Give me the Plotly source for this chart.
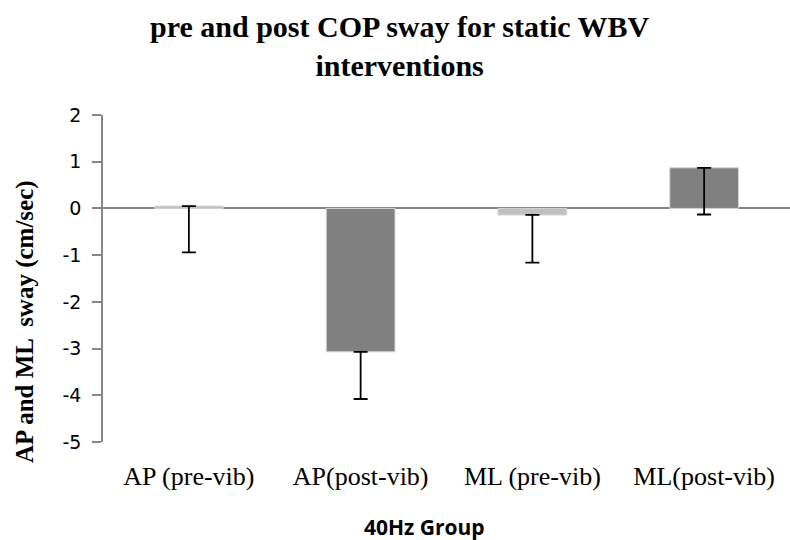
import plotly.graph_objects as go

categories = ["AP (pre-vib)", "AP(post-vib)", "ML (pre-vib)", "ML(post-vib)"]
values = [0.05, -3.07, -0.14, 0.87]
err_minus = [0.99, 1.01, 1.02, 1.00]
err_plus = [0, 0, 0, 0]
bar_colors = ["#c0c0c0", "#808080", "#c0c0c0", "#808080"]
y_ticks = [2, 1, 0, -1, -2, -3, -4, -5]
y_tick_text = ["2", "1", "0", "-1", "-2", "-3", "-4", "-5"]

W, H = 790, 540
L, R, T, B = 103, 0, 115, 98
pw, ph = W - L - R, H - T - B

fig = go.Figure(go.Bar(
    x=categories, y=values,
    marker=dict(color=bar_colors, line=dict(color="#d4d4d4", width=1)),
    width=0.4,
    error_y=dict(type="data", symmetric=False, array=err_plus, arrayminus=err_minus,
                 color="#000000", thickness=1.8, width=7),
))

fig.update_layout(
    width=W, height=H,
    margin=dict(l=L, r=R, t=T, b=B, pad=0),
    plot_bgcolor="white", paper_bgcolor="white",
    showlegend=False,
    xaxis=dict(showline=False, showgrid=False, zeroline=False, ticks="",
               automargin=False, ticklabelstandoff=16,
               tickfont=dict(family="Liberation Serif", size=26, color="#000000")),
    yaxis=dict(range=[-5, 2], tickvals=y_ticks, ticktext=y_tick_text, showgrid=False,
               automargin=False,
               showline=True, linecolor="#868686", linewidth=1.5,
               ticks="outside", ticklen=9, tickcolor="#868686", tickwidth=1.5,
               ticklabelstandoff=7,
               zeroline=True, zerolinecolor="#868686", zerolinewidth=1.5,
               tickfont=dict(family="DejaVu Sans", size=19, color="#000000")),
    annotations=[
        dict(text="<b>pre and post COP sway for static WBV<br>interventions</b>",
             xref="paper", x=(400 - L) / pw, xanchor="center",
             yref="paper", y=(442 - 46) / ph, yanchor="middle",
             showarrow=False,
             font=dict(family="Liberation Serif", size=30, color="#000000")),
        dict(text="<b>AP and ML  sway (cm/sec)</b>", textangle=-90,
             xref="paper", x=0, xshift=25 - L, xanchor="center",
             yref="paper", y=(442 - 322) / ph, yanchor="middle",
             showarrow=False,
             font=dict(family="Liberation Serif", size=25, color="#000000")),
        dict(text="<b>40Hz Group</b>",
             xref="paper", x=(424 - L) / pw, xanchor="center",
             yref="paper", y=(442 - 527) / ph, yanchor="middle",
             showarrow=False,
             font=dict(family="Open Sans", size=21, color="#000000")),
    ],
)

fig.write_html("out.html", config={"displayModeBar": False},
               post_script="document.body.style.margin='0px';document.body.style.padding='0px';")
